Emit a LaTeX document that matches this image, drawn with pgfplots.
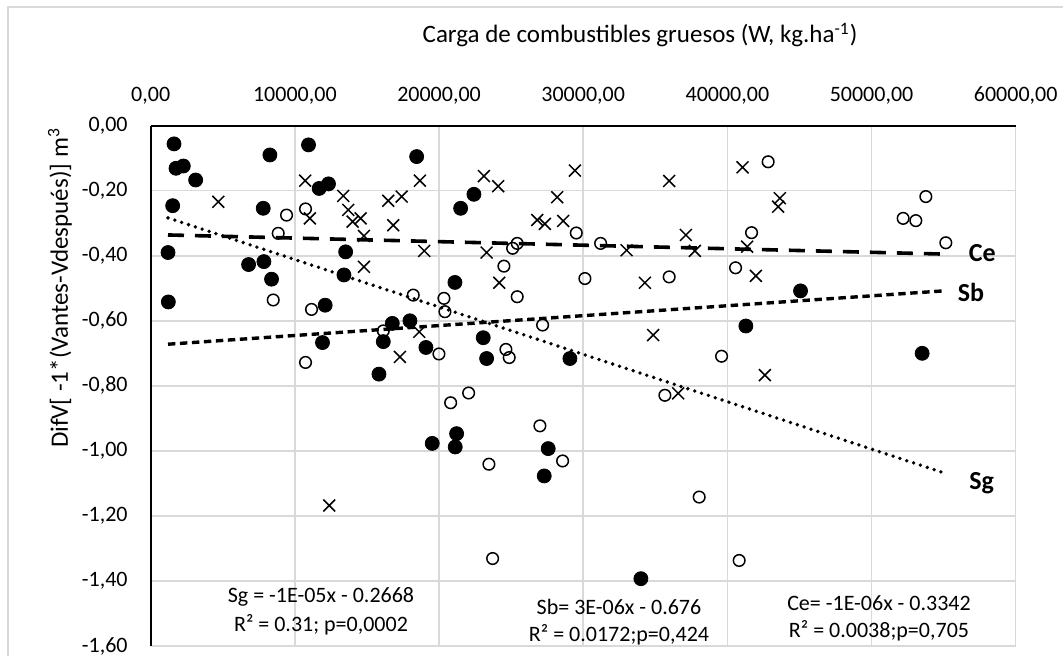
\documentclass[border=0pt]{standalone}
\usepackage{pgfplots}
\pgfplotsset{compat=1.18}
\usepackage{fontspec}
\setmainfont{Carlito}
\definecolor{gridgray}{HTML}{D9D9D9}
\begin{document}
\begin{tikzpicture}[x=1pt,y=1pt]
\path[use as bounding box] (-75.35,-5) rectangle (456.15,323);
\draw[gridgray, line width=0.75pt] (-71.35,-5) -- (-71.35,319.5) -- (456.15,319.5);
\begin{axis}[
  at={(0pt,0pt)}, anchor=south west,
  scale only axis, width=432.5pt, height=260.15pt,
  xmin=0, xmax=60000, ymin=-1.6, ymax=0,
  axis x line*=top, axis y line*=left,
  axis line style={-, black, line width=1pt},
  xtick={0,10000,20000,30000,40000,50000,60000},
  xticklabels={{0,00},{10000,00},{20000,00},{30000,00},{40000,00},{50000,00},{60000,00}},
  ytick={-1.6,-1.4,-1.2,-1,-0.8,-0.6,-0.4,-0.2,0},
  yticklabels={{-1,60},{-1,40},{-1,20},{-1,00},{-0,80},{-0,60},{-0,40},{-0,20},{0,00}},
  scaled x ticks=false,
  major tick length=0pt,
  grid=major, major grid style={gridgray, line width=0.75pt},
  tick label style={font=\fontsize{11}{13}\selectfont, inner sep=0pt},
  xticklabel style={anchor=base, yshift=12pt},
  yticklabel style={anchor=east, xshift=-11.35pt},
  xlabel={Carga de combustibles gruesos (W, kg.ha\textsuperscript{-1})},
  xlabel style={at={(axis description cs:0.5657,1)}, anchor=center, yshift=45.35pt, font=\fontsize{12.5}{15}\selectfont},
  ylabel={DifV[ -1*(Vantes-Vdespués)] m\textsuperscript{3}},
  ylabel style={at={(axis description cs:-0.1049,0.688)}, anchor=center, font=\fontsize{12.5}{15}\selectfont},
]
% Sg: filled circles
\addplot[only marks, mark=*, mark size=3.5pt, mark options={fill=black, draw=black}] coordinates {
(1617,-0.056) (1755,-0.131) (2263,-0.124) (3118,-0.167) (8268,-0.090) (10947,-0.059)
(1524,-0.246) (7806,-0.254) (11686,-0.193) (12333,-0.179) (1201,-0.390) (6790,-0.427)
(7852,-0.418) (8383,-0.472) (1224,-0.542) (13405,-0.459) (13523,-0.388) (12102,-0.552)
(11917,-0.667) (18447,-0.095) (22420,-0.211) (21498,-0.254) (21103,-0.482) (16758,-0.608)
(17982,-0.600) (16133,-0.664) (19092,-0.682) (15832,-0.764) (23066,-0.652) (23301,-0.716)
(29078,-0.716) (41283,-0.616) (45076,-0.508) (53510,-0.700) (19528,-0.977) (21220,-0.947)
(21123,-0.988) (27573,-0.993) (27296,-1.077) (34001,-1.393)
};
% Sb: open circles
\addplot[only marks, mark=o, mark size=2.9pt, mark options={draw=black, line width=0.75pt, fill=white}] coordinates {
(10739,-0.256) (9423,-0.275) (8845,-0.331) (8499,-0.536) (11155,-0.565) (10739,-0.728)
(18211,-0.521) (20340,-0.531) (20409,-0.572) (25423,-0.362) (25104,-0.377) (24501,-0.432)
(25423,-0.526) (29520,-0.330) (16133,-0.631) (27184,-0.613) (24639,-0.688) (24868,-0.713)
(19993,-0.702) (22053,-0.822) (20805,-0.852) (26997,-0.923) (28571,-1.031) (23460,-1.041)
(23717,-1.331) (31207,-0.362) (30118,-0.470) (35964,-0.465) (42829,-0.111) (41678,-0.329)
(40568,-0.437) (39598,-0.709) (35666,-0.829) (38045,-1.142) (40818,-1.337) (53766,-0.218)
(52192,-0.285) (53072,-0.292) (55153,-0.360)
};
% Ce: crosses
\addplot[only marks, mark=x, mark size=4.2pt, mark options={draw=black, line width=0.75pt}] coordinates {
(4688,-0.234) (10716,-0.169) (11039,-0.285) (13356,-0.216) (13703,-0.259) (14008,-0.295)
(14563,-0.285) (14792,-0.339) (14792,-0.434) (16477,-0.231) (17406,-0.218) (16824,-0.306)
(18675,-0.169) (18974,-0.385) (18627,-0.634) (17288,-0.711) (12386,-1.168) (23114,-0.155)
(24106,-0.186) (23301,-0.390) (24175,-0.483) (28197,-0.220) (26810,-0.290) (27344,-0.302)
(28613,-0.293) (29425,-0.138) (35964,-0.170) (33010,-0.383) (37122,-0.336) (37746,-0.385)
(34279,-0.483) (41977,-0.462) (41373,-0.372) (41054,-0.128) (43641,-0.223) (43523,-0.249)
(34855,-0.644) (42601,-0.767) (36588,-0.823)
};
% trend lines
\addplot[no marks, black, line width=1.8pt, dash pattern=on 8pt off 5.5pt] coordinates {(1200,-0.336) (55150,-0.395)};
\addplot[no marks, black, line width=1.7pt, dash pattern=on 3.7pt off 2.3pt] coordinates {(1200,-0.672) (55150,-0.5075)};
\addplot[no marks, black, line width=1.9pt, line cap=round, dash pattern=on 0pt off 3.6pt] coordinates {(1200,-0.2835) (55150,-1.0695)};
\end{axis}
\begin{scope}[every node/.style={font=\fontsize{11}{13}\selectfont, inner sep=0pt, anchor=center}]
\node at (85.15,24.65) {Sg = -1E-05x - 0.2668};
\node at (85.15,10.5) {R² = 0.31; p=0,0002};
\node at (234.15,19.65) {Sb= 3E-06x - 0.676};
\node at (234.15,5.5) {R² = 0.0172;p=0,424};
\node at (364.15,21.65) {Ce= -1E-06x - 0.3342};
\node at (364.15,7.65) {R² = 0.0038;p=0,705};
\end{scope}
\begin{scope}[every node/.style={font=\fontsize{13}{15}\selectfont\bfseries, inner sep=0pt, anchor=center}]
\node at (415.8,196.35) {Ce};
\node at (410.15,176.65) {Sb};
\node at (415.5,81.35) {Sg};
\end{scope}
\end{tikzpicture}
\end{document}
